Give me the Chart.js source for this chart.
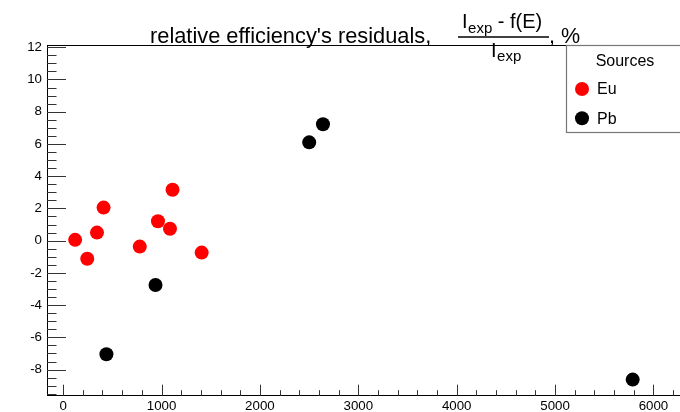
<!DOCTYPE html>
<html lang="en">
<head>
<meta charset="UTF-8">
<title>relative efficiency's residuals</title>
<script src="https://cdn.jsdelivr.net/npm/chart.js@4"></script>
<style>
  body { margin: 0; overflow: hidden; background: #fff; }
  #wrap { width: 700px; height: 412px; }
</style>
</head>
<body>
<div id="wrap"><canvas id="chart" width="700" height="412"></canvas></div>
<script>
// values: energy vs residual in %
const euEnergy = [122, 245, 344, 411, 779, 964, 1086, 1112, 1408];
const euResidual = [0.05, -1.12, 0.5, 2.05, -0.37, 1.2, 0.74, 3.16, -0.74];
const pbEnergy = [440, 939, 2501, 2641, 5789];
const pbResidual = [-7.05, -2.75, 6.1, 7.22, -8.62];

const seriesNames = ['Eu', 'Pb'];
const seriesColors = ['#ff0000', '#000000'];
const legendTitle = 'Sources';

// axis ticks
const xTickValues = [0, 1000, 2000, 3000, 4000, 5000, 6000];
const yTickValues = [-8, -6, -4, -2, 0, 2, 4, 6, 8, 10, 12];
const xMinorStep = 200;
const yMinorStep = 0.5;

const FONT = "'Liberation Sans', Arial, Helvetica, sans-serif";

function isMajor(v, list) {
    return list.some(t => Math.abs(t - v) < 1e-6);
}

// ROOT style frame: ticks pointing inside, line on top
const framePlugin = {
    id: 'frame',
    beforeDatasetsDraw(chart) {
        const { ctx, chartArea: a, scales: { x, y } } = chart;
        ctx.save();
        ctx.strokeStyle = '#333';
        ctx.lineWidth = 1;
        ctx.beginPath();
        for (let v = Math.ceil(y.min / yMinorStep) * yMinorStep; v <= y.max; v += yMinorStep) {
            const py = Math.round(y.getPixelForValue(v)) + 0.5;
            ctx.moveTo(a.left, py);
            ctx.lineTo(a.left + (isMajor(v, yTickValues) ? 19 : 9.5), py);
        }
        for (let v = Math.ceil(x.min / xMinorStep) * xMinorStep; v <= x.max; v += xMinorStep) {
            const px = Math.round(x.getPixelForValue(v)) + 0.5;
            ctx.moveTo(px, a.bottom);
            ctx.lineTo(px, a.bottom - (isMajor(v, xTickValues) ? 11 : 5.5));
        }
        ctx.stroke();
        ctx.strokeStyle = '#000';
        ctx.beginPath();
        ctx.moveTo(a.left, Math.round(a.top) + 0.5);
        ctx.lineTo(a.right, Math.round(a.top) + 0.5);
        ctx.stroke();
        ctx.restore();
    }
};

// title with the fraction (I_exp - f(E)) / I_exp
const titlePlugin = {
    id: 'rootTitle',
    afterDraw(chart) {
        const ctx = chart.ctx;
        ctx.save();
        ctx.fillStyle = '#000';
        ctx.textBaseline = 'alphabetic';
        ctx.textAlign = 'left';
        ctx.font = '21.8px ' + FONT;
        ctx.fillText("relative efficiency's residuals,", 150, 43);

        const big = '20px ' + FONT, small = '15px ' + FONT;
        function part(text, font, x, yb) {
            ctx.font = font;
            ctx.fillText(text, x, yb);
            return x + ctx.measureText(text).width;
        }
        // numerator
        let x = 462;
        x = part('I', big, x, 28);
        x = part('exp', small, x + 0.5, 33);
        part(' - f(E)', big, x, 28);
        // bar
        ctx.strokeStyle = '#000';
        ctx.lineWidth = 1.3;
        ctx.beginPath();
        ctx.moveTo(458, 37);
        ctx.lineTo(549, 37);
        ctx.stroke();
        // denominator
        x = 491;
        x = part('I', big, x, 57);
        part('exp', small, x + 0.5, 61);
        part(', %', '21.5px ' + FONT, 549, 43);
        ctx.restore();
    }
};

// legend box in the upper right corner
const legendPlugin = {
    id: 'rootLegend',
    afterDraw(chart) {
        const ctx = chart.ctx;
        const left = 566.5, top = 45.5, bottom = 132.5;
        ctx.save();
        ctx.fillStyle = '#fff';
        ctx.fillRect(left, top, 200, bottom - top);
        ctx.strokeStyle = '#777';
        ctx.lineWidth = 1.2;
        ctx.strokeRect(left, top, 200, bottom - top);
        ctx.fillStyle = '#000';
        ctx.font = '16px ' + FONT;
        ctx.textAlign = 'center';
        ctx.textBaseline = 'alphabetic';
        ctx.fillText(legendTitle, 625, 66);
        ctx.textAlign = 'left';
        ctx.textBaseline = 'middle';
        chart.data.datasets.forEach((ds, i) => {
            const cy = 89 + i * 29.3;
            ctx.fillStyle = ds.backgroundColor;
            ctx.beginPath();
            ctx.arc(582, cy, 7, 0, Math.PI * 2);
            ctx.fill();
            ctx.fillStyle = '#000';
            ctx.fillText(ds.label, 597, cy + 1);
        });
        ctx.restore();
    }
};

const ctx = document.getElementById('chart').getContext('2d');

new Chart(ctx, {
    type: 'scatter',
    data: {
        datasets: [
            {
                label: seriesNames[0],
                data: euEnergy.map((e, i) => ({ x: e, y: euResidual[i] })),
                backgroundColor: seriesColors[0],
                borderWidth: 0,
                pointRadius: 7,
                pointHoverRadius: 7
            },
            {
                label: seriesNames[1],
                data: pbEnergy.map((e, i) => ({ x: e, y: pbResidual[i] })),
                backgroundColor: seriesColors[1],
                borderWidth: 0,
                pointRadius: 7,
                pointHoverRadius: 7
            }
        ]
    },
    options: {
        responsive: false,
        animation: false,
        layout: { padding: { top: 45, left: 0, right: 0, bottom: 0 } },
        plugins: {
            legend: { display: false },
            title: { display: false },
            tooltip: { enabled: false }
        },
        scales: {
            x: {
                type: 'linear',
                min: -164,
                max: 6402,
                grid: { display: false, drawTicks: false },
                border: { display: true, color: '#000', width: 1 },
                afterBuildTicks: s => { s.ticks = xTickValues.map(v => ({ value: v })); },
                afterFit: s => { s.height = 16.3; },
                ticks: {
                    padding: 3,
                    color: '#000',
                    autoSkip: false,
                    maxRotation: 0,
                    font: { family: FONT, size: 13.3 },
                    callback: v => String(v)
                }
            },
            y: {
                type: 'linear',
                min: -9.62,
                max: 12.14,
                grid: { display: false, drawTicks: false },
                border: { display: true, color: '#000', width: 1 },
                afterBuildTicks: s => { s.ticks = yTickValues.map(v => ({ value: v })); },
                afterFit: s => { s.width = 47; },
                ticks: {
                    padding: 5,
                    color: '#000',
                    autoSkip: false,
                    font: { family: FONT, size: 13.3 },
                    callback: v => String(v)
                }
            }
        }
    },
    plugins: [framePlugin, titlePlugin, legendPlugin]
});
</script>
</body>
</html>
